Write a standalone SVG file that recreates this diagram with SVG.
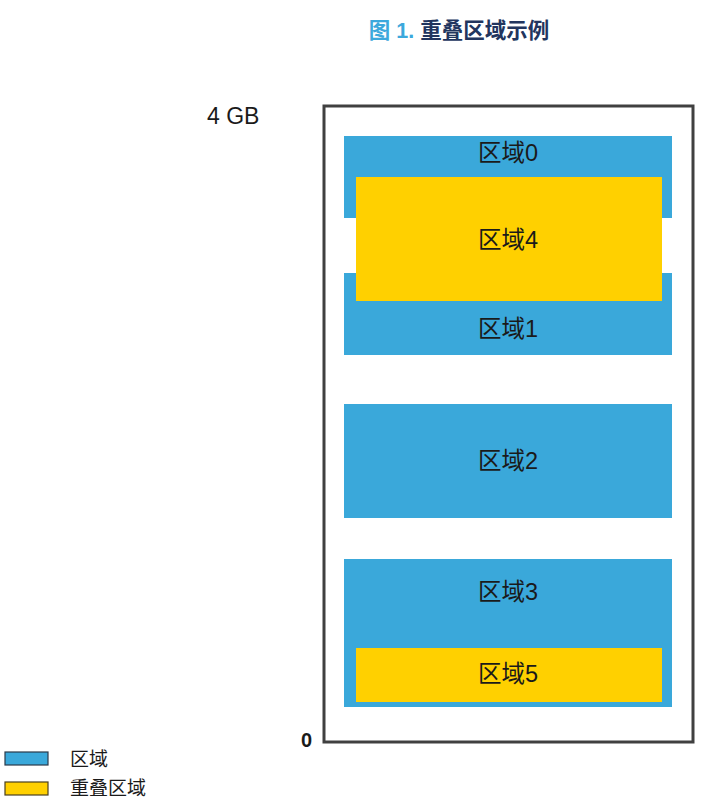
<svg xmlns="http://www.w3.org/2000/svg" width="705" height="807" viewBox="0 0 705 807">
<style>
.t{font-family:"Liberation Sans","Noto Sans CJK SC",sans-serif;fill:#1a1a1a}
.lbl{font-size:23.5px;text-anchor:middle;dominant-baseline:central}
.blue{fill:#3aa8da}
.yel{fill:#ffd000}
</style>
<rect width="705" height="807" fill="#ffffff"/>
<g id="title">
<text x="459" y="38" text-anchor="middle" class="t" style="font-size:21.5px;font-weight:bold"><tspan fill="#3ca8dc">图 1. </tspan><tspan fill="#22355e">重叠区域示例</tspan></text>
</g>
<g id="memory">
<rect x="324" y="106" width="369" height="636" fill="#ffffff" stroke="#404040" stroke-width="3"/>
<text x="207" y="124" class="t" style="font-size:23px">4 GB</text>
<text x="301" y="747" class="t" style="font-size:20px;font-weight:bold">0</text>
</g>
<g id="region0"><rect class="blue" x="344" y="136" width="328" height="82"/><text class="t lbl" x="508" y="153">区域0</text></g>
<g id="region1"><rect class="blue" x="344" y="273" width="328" height="82"/><text class="t lbl" x="508" y="329">区域1</text></g>
<g id="region4"><rect class="yel" x="356" y="177" width="306" height="124"/><text class="t lbl" x="508" y="240">区域4</text></g>
<g id="region2"><rect class="blue" x="344" y="404" width="328" height="114"/><text class="t lbl" x="508" y="461">区域2</text></g>
<g id="region3"><rect class="blue" x="344" y="559" width="328" height="148"/><text class="t lbl" x="508" y="592">区域3</text></g>
<g id="region5"><rect class="yel" x="356" y="648" width="306" height="54"/><text class="t lbl" x="508" y="674">区域5</text></g>
<g id="legend">
<rect x="5" y="752" width="43" height="13" fill="#3aa8da" stroke="#2a3a4a" stroke-width="1.2"/>
<text x="70" y="766" class="t" style="font-size:19px">区域</text>
<rect x="5" y="782" width="43" height="13" fill="#ffd000" stroke="#4a4020" stroke-width="1.2"/>
<text x="70" y="795" class="t" style="font-size:19px">重叠区域</text>
</g>
</svg>
